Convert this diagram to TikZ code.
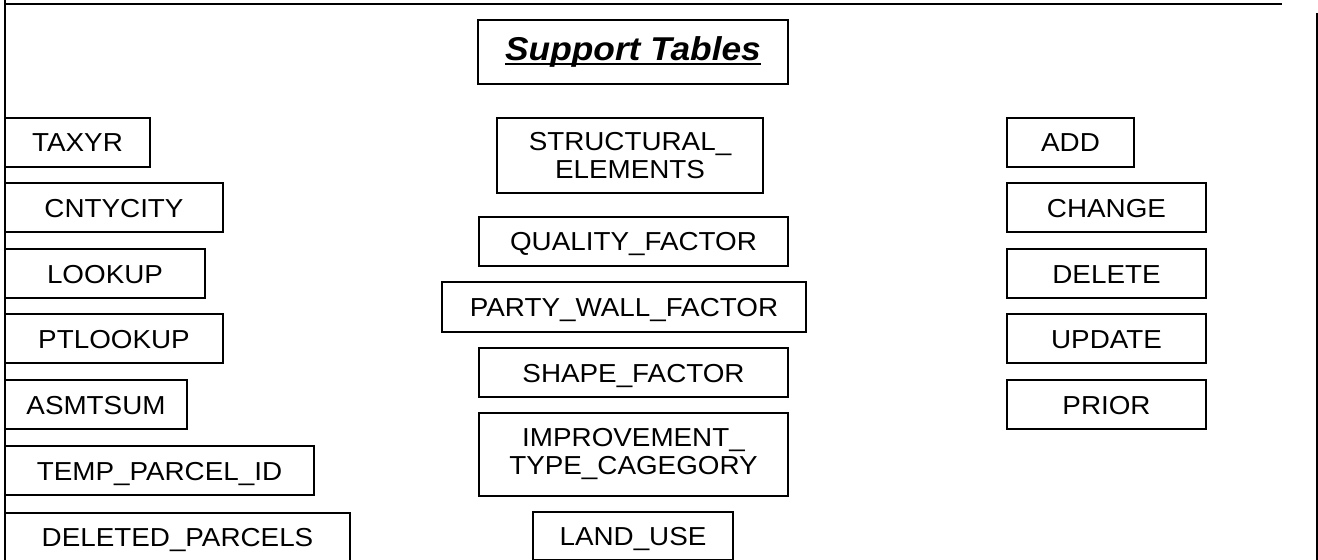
\documentclass[tikz,border=0pt]{standalone}
\usepackage{fontspec}
\setmainfont{Liberation Sans}[FakeStretch=1.07]
\newcommand{\titleul}[1]{\setbox0=\hbox{#1}\rlap{\rule[-2.1pt]{\wd0}{1.1pt}}\box0}

\begin{document}
\begin{tikzpicture}[x=0.5pt,y=-0.5pt,
tablebox/.style={draw=black, line width=1pt, inner sep=0pt, minimum height=24.5pt, align=center, font=\fontsize{13}{14}\selectfont},
onerow/.style={text height=9.3pt, text depth=0pt},
titlebox/.style={draw=black, line width=1pt, inner sep=0pt, minimum width=155pt, minimum height=32pt, font=\fontsize{16.5}{18}\selectfont\bfseries\itshape}
]
\clip (0,0) rectangle (1318,560);

% outer frame
\draw [line width=1pt] (5,4) -- (1282,4);
\draw [line width=1pt] (5,0) -- (5,560);
\draw [line width=1pt] (1317,13) -- (1317,560);

\node [titlebox] (title) at (633,52) {\titleul{Support Tables}};

% left column
\node [tablebox, onerow, minimum width=72.5pt] (taxyr) at (77.5,142.5) {TAXYR};
\node [tablebox, onerow, minimum width=109pt] (cntycity) at (114,208) {CNTYCITY};
\node [tablebox, onerow, minimum width=100pt] (lookup) at (105,274) {LOOKUP};
\node [tablebox, onerow, minimum width=109pt] (ptlookup) at (114,339) {PTLOOKUP};
\node [tablebox, onerow, minimum width=91pt] (asmtsum) at (96,405) {ASMTSUM};
\node [tablebox, onerow, minimum width=154.5pt] (tempparcel) at (159.5,471) {TEMP\_PARCEL\_ID};
\node [tablebox, onerow, minimum width=172.5pt, minimum height=24pt] (deleted) at (177.5,537) {DELETED\_PARCELS};

% middle column
\node [tablebox, minimum width=133pt, minimum height=37.5pt] (structural) at (630,155.5) {STRUCTURAL\_\\ELEMENTS};
\node [tablebox, onerow, minimum width=154.5pt] (quality) at (633.5,241.5) {QUALITY\_FACTOR};
\node [tablebox, onerow, minimum width=182pt, minimum height=25pt] (partywall) at (624,307) {PARTY\_WALL\_FACTOR};
\node [tablebox, onerow, minimum width=154.5pt] (shape) at (633.5,373) {SHAPE\_FACTOR};
\node [tablebox, minimum width=154.5pt, minimum height=41.5pt] (improvement) at (633.5,454.5) {IMPROVEMENT\_\\TYPE\_CAGEGORY};
\node [tablebox, onerow, minimum width=100pt, minimum height=24pt] (landuse) at (633,536) {LAND\_USE};

% right column
\node [tablebox, onerow, minimum width=63.5pt] (add) at (1070.5,142.5) {ADD};
\node [tablebox, onerow, minimum width=99.5pt] (change) at (1106.5,208) {CHANGE};
\node [tablebox, onerow, minimum width=99.5pt] (delete) at (1106.5,274) {DELETE};
\node [tablebox, onerow, minimum width=99.5pt] (update) at (1106.5,339) {UPDATE};
\node [tablebox, onerow, minimum width=99.5pt] (prior) at (1106.5,405) {PRIOR};
\end{tikzpicture}
\end{document}
